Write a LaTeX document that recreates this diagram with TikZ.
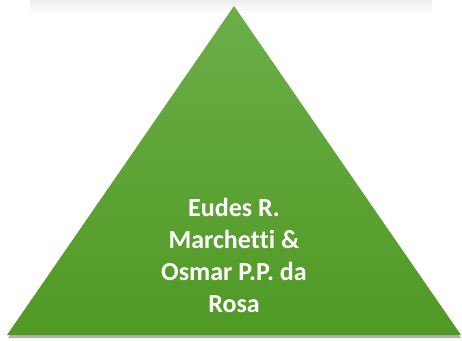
\documentclass[tikz,border=0pt]{standalone}
\usepackage{fontspec}
\setmainfont[Ligatures=NoCommon]{Carlito}
\usetikzlibrary{positioning}
\definecolor{pyrtop}{RGB}{108,174,72}
\definecolor{pyrbottom}{RGB}{80,153,36}

\begin{document}
\begin{tikzpicture}[
    x=1pt, y=1pt,
    label/.style={font=\fontsize{26}{32}\selectfont\bfseries, text=white, align=center}
]
    \useasboundingbox (0,0) rectangle (462,340);
    % Top shadow band
    \shade[top color=black!7, bottom color=white] (30,326) rectangle (432,340);
    % Drop shadow and pyramid
    \fill[black!30] (8,2) -- (234,332) -- (461,2) -- cycle;
    \shade[top color=pyrtop, bottom color=pyrbottom] (7,5) -- (234,334) -- (461,5) -- cycle;
    % Label
    \node[label] (authors) at (234,85) {Eudes R.\\Marchet\kern0pt t\kern0pt i \&\\Osmar P.P. da\\Rosa};
\end{tikzpicture}
\end{document}
